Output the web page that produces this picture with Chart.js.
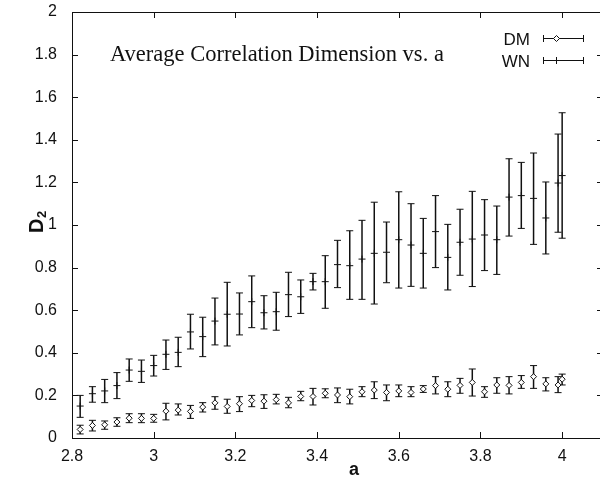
<!DOCTYPE html>
<html>
<head>
<meta charset="utf-8">
<script src="https://cdn.jsdelivr.net/npm/chart.js@4/dist/chart.umd.min.js"></script>
<style>
    html, body { margin: 0; padding: 0; background: #fff; }
    #wrap { width: 600px; height: 477px; overflow: hidden; position: relative; }
    canvas { display: block; }
</style>
</head>
<body>
<div id="wrap"><canvas id="chart" width="610" height="477"></canvas></div>
<script>
// a values (x) of the measured points
const aValues = [2.82, 2.85, 2.88, 2.91, 2.94, 2.97, 3.00, 3.03, 3.06, 3.09,
    3.12, 3.15, 3.18, 3.21, 3.24, 3.27, 3.30, 3.33, 3.36, 3.39,
    3.42, 3.45, 3.48, 3.51, 3.54, 3.57, 3.60, 3.63, 3.66, 3.69,
    3.72, 3.75, 3.78, 3.81, 3.84, 3.87, 3.90, 3.93, 3.96, 3.99, 4.00];

// DM series: mean, lower and upper end of the error bar
const dmMean = [0.040, 0.059, 0.062, 0.075, 0.093, 0.092, 0.092, 0.126, 0.131, 0.125,
    0.145, 0.165, 0.148, 0.161, 0.176, 0.173, 0.180, 0.165, 0.195, 0.195,
    0.210, 0.202, 0.194, 0.217, 0.225, 0.214, 0.221, 0.214, 0.230, 0.246,
    0.229, 0.247, 0.261, 0.217, 0.249, 0.247, 0.261, 0.288, 0.254, 0.249, 0.276];
const dmLow = [0.019, 0.033, 0.041, 0.055, 0.072, 0.072, 0.074, 0.085, 0.108, 0.092,
    0.122, 0.135, 0.116, 0.124, 0.147, 0.139, 0.160, 0.142, 0.175, 0.155,
    0.189, 0.166, 0.160, 0.194, 0.185, 0.175, 0.194, 0.194, 0.214, 0.207,
    0.194, 0.210, 0.197, 0.191, 0.210, 0.207, 0.233, 0.233, 0.221, 0.213, 0.249];
const dmHigh = [0.060, 0.083, 0.080, 0.095, 0.114, 0.114, 0.111, 0.163, 0.160, 0.153,
    0.166, 0.194, 0.182, 0.194, 0.200, 0.203, 0.205, 0.191, 0.219, 0.233,
    0.231, 0.235, 0.229, 0.241, 0.264, 0.249, 0.249, 0.241, 0.246, 0.288,
    0.264, 0.280, 0.324, 0.241, 0.283, 0.288, 0.293, 0.340, 0.283, 0.288, 0.300];

// WN series
const wnMean = [0.150, 0.208, 0.221, 0.246, 0.319, 0.313, 0.340, 0.393, 0.402, 0.498,
    0.476, 0.549, 0.581, 0.582, 0.640, 0.588, 0.593, 0.673, 0.663, 0.734,
    0.734, 0.814, 0.809, 0.840, 0.867, 0.872, 0.931, 0.906, 0.867, 0.969,
    0.848, 0.919, 0.934, 0.953, 0.931, 1.131, 1.138, 1.125, 1.033, 1.197, 1.232];
const wnLow = [0.097, 0.168, 0.166, 0.185, 0.266, 0.261, 0.291, 0.322, 0.335, 0.418,
    0.382, 0.437, 0.432, 0.484, 0.518, 0.512, 0.506, 0.570, 0.585, 0.695,
    0.609, 0.706, 0.651, 0.651, 0.629, 0.729, 0.704, 0.712, 0.704, 0.800,
    0.695, 0.764, 0.711, 0.786, 0.768, 0.948, 0.984, 0.909, 0.864, 0.966, 0.938];
const wnHigh = [0.200, 0.241, 0.275, 0.307, 0.371, 0.366, 0.388, 0.460, 0.473, 0.581,
    0.567, 0.657, 0.731, 0.681, 0.761, 0.668, 0.684, 0.778, 0.742, 0.773,
    0.856, 0.928, 0.973, 1.022, 1.107, 1.014, 1.156, 1.100, 1.031, 1.138,
    1.003, 1.074, 1.158, 1.119, 1.089, 1.311, 1.294, 1.338, 1.202, 1.427, 1.527];

const xTicks = [2.8, 3.0, 3.2, 3.4, 3.6, 3.8, 4.0];
const xTickLabels = ['2.8', '3', '3.2', '3.4', '3.6', '3.8', '4'];
const yTicks = [0, 0.2, 0.4, 0.6, 0.8, 1.0, 1.2, 1.4, 1.6, 1.8, 2.0];
const yTickLabels = ['0', '0.2', '0.4', '0.6', '0.8', '1', '1.2', '1.4', '1.6', '1.8', '2'];

const chartTitle = 'Average Correlation Dimension vs. a';
const seriesNames = ['DM', 'WN'];

const ink = '#111';
const sansFont = '"Liberation Sans", Arial, Helvetica, sans-serif';
const serifFont = '"Liberation Serif", "Times New Roman", serif';

function drawWhiskers(ctx, sx, sy, lows, highs) {
    aValues.forEach((a, i) => {
        const px = sx.getPixelForValue(a);
        const top = sy.getPixelForValue(highs[i]);
        const bot = sy.getPixelForValue(lows[i]);
        ctx.beginPath();
        ctx.lineWidth = 1.5;
        ctx.moveTo(px, top);
        ctx.lineTo(px, bot);
        ctx.stroke();
        ctx.beginPath();
        ctx.lineWidth = 1;
        ctx.moveTo(px - 3.5, top);
        ctx.lineTo(px + 3.5, top);
        ctx.moveTo(px - 3.5, bot);
        ctx.lineTo(px + 3.5, bot);
        ctx.stroke();
    });
}

const errorBarPlugin = {
    id: 'errorBars',
    beforeDatasetsDraw(chart) {
        const ctx = chart.ctx;
        ctx.save();
        ctx.strokeStyle = ink;
        drawWhiskers(ctx, chart.scales.x, chart.scales.y, wnLow, wnHigh);
        drawWhiskers(ctx, chart.scales.x, chart.scales.y, dmLow, dmHigh);
        ctx.restore();
    },
    afterDraw(chart) {
        const ctx = chart.ctx;
        const area = chart.chartArea;
        const sx = chart.scales.x;
        const sy = chart.scales.y;
        ctx.save();
        ctx.strokeStyle = ink;
        ctx.fillStyle = ink;
        ctx.lineWidth = 1;

        // frame with inward ticks (gnuplot style)
        ctx.strokeRect(area.left + 0.5, area.top + 0.5, area.right - area.left, area.bottom - area.top);
        ctx.beginPath();
        yTicks.forEach(v => {
            const py = Math.round(sy.getPixelForValue(v)) + 0.5;
            ctx.moveTo(area.left, py);
            ctx.lineTo(area.left + 6, py);
            ctx.moveTo(area.right, py);
            ctx.lineTo(area.right - 6, py);
        });
        xTicks.forEach(v => {
            const px = Math.round(sx.getPixelForValue(v)) + 0.5;
            ctx.moveTo(px, area.bottom);
            ctx.lineTo(px, area.bottom - 6);
            ctx.moveTo(px, area.top);
            ctx.lineTo(px, area.top + 6);
        });
        ctx.stroke();

        // title inside the plot
        ctx.font = '22.5px ' + serifFont;
        ctx.textAlign = 'left';
        ctx.textBaseline = 'alphabetic';
        ctx.fillText(chartTitle, 110, 61);

        // key
        ctx.font = '17px ' + sansFont;
        ctx.textAlign = 'right';
        ctx.fillText(seriesNames[0], 530, 45);
        ctx.fillText(seriesNames[1], 530, 67);
        [38.5, 60.5].forEach((ky, k) => {
            ctx.beginPath();
            ctx.moveTo(543, ky);
            ctx.lineTo(583, ky);
            ctx.moveTo(543.5, ky - 3.5);
            ctx.lineTo(543.5, ky + 3.5);
            ctx.moveTo(583.5, ky - 3.5);
            ctx.lineTo(583.5, ky + 3.5);
            if (k === 1) {
                ctx.moveTo(556.5, ky - 3.5);
                ctx.lineTo(556.5, ky + 3.5);
            }
            ctx.stroke();
            if (k === 0) {
                ctx.beginPath();
                ctx.moveTo(556.5, ky - 3);
                ctx.lineTo(559.5, ky);
                ctx.lineTo(556.5, ky + 3);
                ctx.lineTo(553.5, ky);
                ctx.closePath();
                ctx.fillStyle = '#fff';
                ctx.fill();
                ctx.stroke();
                ctx.fillStyle = ink;
            }
        });

        // axis titles
        ctx.font = 'bold 18px ' + sansFont;
        ctx.textAlign = 'center';
        ctx.fillText('a', 354, 475);

        ctx.translate(43, 233);
        ctx.rotate(-Math.PI / 2);
        ctx.textAlign = 'left';
        ctx.font = 'bold 20px ' + sansFont;
        ctx.fillText('D', 0, 0);
        const dw = ctx.measureText('D').width;
        ctx.font = 'bold 13px ' + sansFont;
        ctx.fillText('2', dw + 0.5, 3);
        ctx.restore();
    }
};

const ctx = document.getElementById('chart').getContext('2d');

new Chart(ctx, {
    type: 'scatter',
    data: {
        datasets: [{
            label: seriesNames[0],
            data: aValues.map((a, i) => ({x: a, y: dmMean[i]})),
            pointStyle: 'rectRot',
            pointRadius: 3,
            backgroundColor: '#fff',
            borderColor: ink,
            borderWidth: 1,
            showLine: false
        }, {
            label: seriesNames[1],
            data: aValues.map((a, i) => ({x: a, y: wnMean[i]})),
            pointStyle: 'cross',
            pointRadius: 3.5,
            borderColor: ink,
            borderWidth: 1,
            showLine: false
        }]
    },
    options: {
        responsive: false,
        animation: false,
        devicePixelRatio: 1,
        layout: {padding: {top: 12, right: 7, left: 0, bottom: 0}},
        plugins: {
            legend: {display: false},
            tooltip: {enabled: false}
        },
        elements: {point: {hoverRadius: 3}},
        scales: {
            x: {
                type: 'linear',
                min: 2.8,
                max: 4.1,
                afterBuildTicks: scale => { scale.ticks = xTicks.map(v => ({value: v})); },
                afterFit: scale => {
                    scale.height = 39;
                    scale.paddingLeft = 0;
                    scale.paddingRight = 0;
                },
                grid: {display: false},
                border: {display: false},
                ticks: {
                    color: ink,
                    padding: 1,
                    maxRotation: 0,
                    autoSkip: false,
                    font: {family: sansFont, size: 16},
                    callback: (value, index) => xTickLabels[index]
                }
            },
            y: {
                type: 'linear',
                min: 0,
                max: 2,
                afterBuildTicks: scale => { scale.ticks = yTicks.map(v => ({value: v})); },
                afterFit: scale => {
                    scale.width = 72;
                    scale.paddingTop = 0;
                    scale.paddingBottom = 0;
                },
                grid: {display: false},
                border: {display: false},
                ticks: {
                    color: ink,
                    padding: 7,
                    autoSkip: false,
                    font: {family: sansFont, size: 16},
                    callback: (value, index) => yTickLabels[index]
                }
            }
        }
    },
    plugins: [errorBarPlugin]
});
</script>
</body>
</html>
